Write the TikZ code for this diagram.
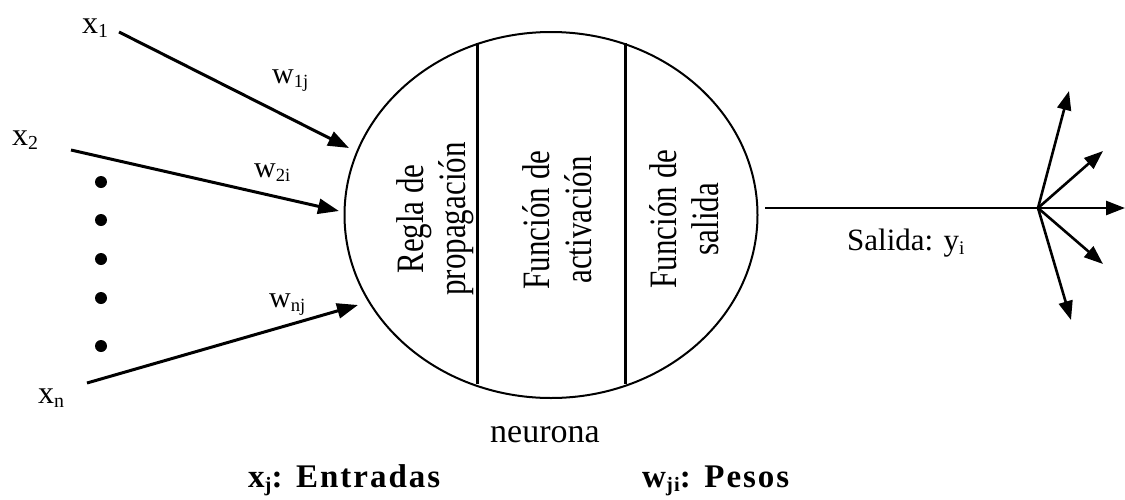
\documentclass[tikz,border=0pt]{standalone}
\usepackage{fontspec}
\setmainfont{Liberation Serif}
\newfontfamily\spacedbf{Liberation Serif}[LetterSpace=6,BoldFont={Liberation Serif Bold}]
\usetikzlibrary{arrows.meta,shapes.geometric}
\newcommand\sbs[1]{\raisebox{-0.14em}{\scalebox{0.62}{#1}}}
\tikzset{
  lbl/.style={inner sep=0pt, anchor=base west, font=\fontsize{32}{36}\selectfont},
  wlbl/.style={inner sep=0pt, anchor=base west, font=\fontsize{30}{34}\selectfont},
  vtext/.style={inner sep=0pt, align=center, rotate=90, yscale=1.25, font=\fontsize{31}{34}\selectfont},
  inarrow/.style={line width=3pt, -{Triangle[length=21pt,width=15pt]}},
  outarrow/.style={line width=2.6pt, -{Triangle[length=19pt,width=14pt]}},
  dotmark/.style={circle, fill=black, inner sep=0pt, minimum size=12pt},
  bottomlbl/.style={inner sep=0pt, anchor=base west, font=\fontsize{33}{36}\spacedbf\bfseries},
}
\begin{document}
\begin{tikzpicture}[x=1pt,y=-1pt]
\useasboundingbox (0,0) rectangle (1125,499);
% neuron
\node[ellipse, draw, line width=2pt, minimum width=413pt, minimum height=366pt, inner sep=0pt] (neuron) at (551,215) {};
\draw[line width=3pt] (477,43) -- (477,384);
\draw[line width=3pt] (625,43) -- (625,384);
\node[vtext] (regla) at (435,219) {Regla de\\propagación};
\node[vtext] (activ) at (557,220) {Función de\\activación};
\node[vtext] (salida) at (684,219) {Función de\\salida};
% inputs
\node[lbl] (x1) at (82,33) {x\sbs{1}};
\node[lbl] (x2) at (12,145) {x\sbs{2}};
\node[lbl] (xn) at (38,403) {x\sbs{n}};
\coordinate (s1) at (119,32);
\coordinate (t1) at (349,148);
\coordinate (s2) at (71,150);
\coordinate (t2) at (339,211);
\coordinate (sn) at (87,383);
\coordinate (tn) at (358,305);
\draw[inarrow] (s1) -- (t1);
\draw[inarrow] (s2) -- (t2);
\draw[inarrow] (sn) -- (tn);
\node[wlbl] (w1) at (272,83) {w\sbs{1j}};
\node[wlbl] (w2) at (254,177) {w\sbs{2i}};
\node[wlbl] (wn) at (269,307) {w\sbs{nj}};
\node[dotmark] (d1) at (101,182) {};
\node[dotmark] (d2) at (101,220) {};
\node[dotmark] (d3) at (101,259) {};
\node[dotmark] (d4) at (101,298) {};
\node[dotmark] (d5) at (101,346) {};
% output
\coordinate (ostart) at (765,208);
\coordinate (hub) at (1038,208);
\draw[line width=2.6pt] (ostart) -- (hub);
\coordinate (o1) at (1069,91);
\coordinate (o2) at (1103,151);
\coordinate (o3) at (1125,208);
\coordinate (o4) at (1103,264);
\coordinate (o5) at (1071,320);
\foreach \t in {o1,o2,o3,o4,o5} \draw[outarrow] (hub) -- (\t);
\node[inner sep=0pt, anchor=base west, font=\fontsize{31}{34}\selectfont] (sal) at (847,250) {Salida: y\sbs{i}};
% captions
\node[inner sep=0pt, anchor=base west, font=\fontsize{34}{38}\selectfont] (neur) at (490,442) {neurona};
\node[bottomlbl] (ent) at (248,487) {x\sbs{j}: Entradas};
\node[bottomlbl] (pes) at (642,487) {w\sbs{ji}: Pesos};
\end{tikzpicture}
\end{document}
